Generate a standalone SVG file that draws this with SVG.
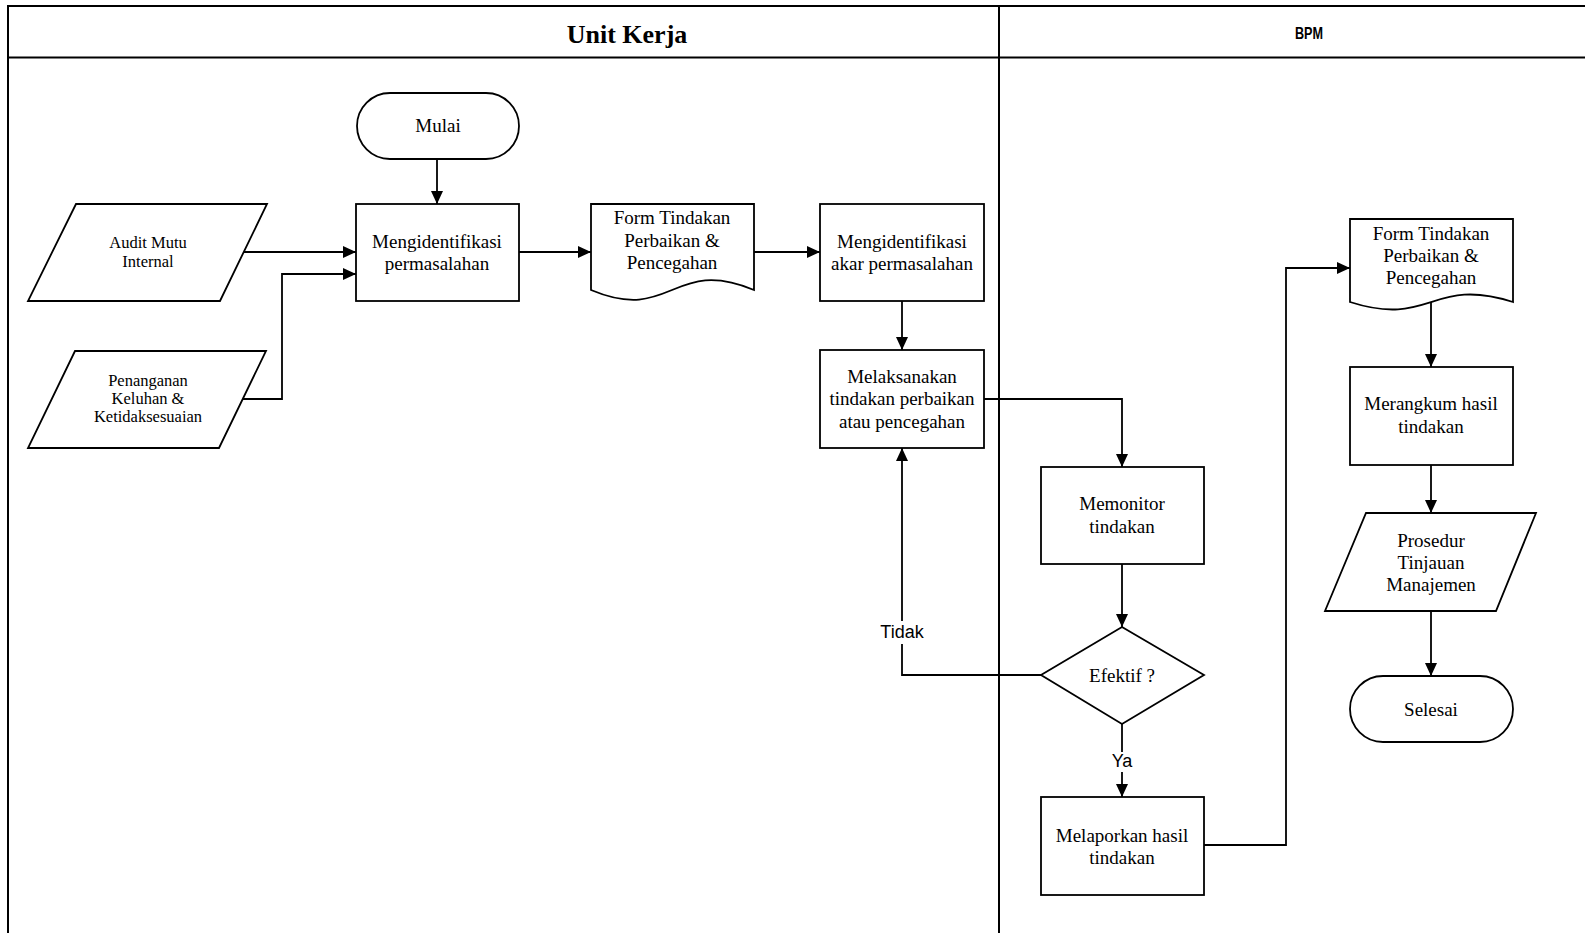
<svg xmlns="http://www.w3.org/2000/svg" width="1585" height="933" viewBox="0 0 1585 933">
<style>
.shape{fill:#fff;stroke:#000;stroke-width:1.8}
.lane{fill:none;stroke:#000;stroke-width:2}
.edge{fill:none;stroke:#000;stroke-width:1.8}
.t{font-family:"Liberation Serif","Times New Roman",serif;font-size:19px;fill:#000;text-anchor:middle}
.ts{font-family:"Liberation Serif","Times New Roman",serif;font-size:16.5px;fill:#000;text-anchor:middle}
.lbl{font-family:"Liberation Sans",Arial,sans-serif;font-size:18px;fill:#000;text-anchor:middle}
</style>
<defs>
<marker id="arr" markerUnits="userSpaceOnUse" markerWidth="13" markerHeight="12" refX="13" refY="6" orient="auto">
<path d="M0,0 L13,6 L0,12 z" fill="#000"/>
</marker>
</defs>
<rect width="1585" height="933" fill="#fff"/>
<g id="lanes">
<path class="lane" d="M8,933 V6 H1585 M8,57.5 H1585 M999,6 V933"/>
<text x="627" y="43" style="font-family:'Liberation Serif','Times New Roman',serif;font-size:26px;font-weight:bold;text-anchor:middle">Unit Kerja</text>
<text x="1309" y="39" textLength="28" lengthAdjust="spacingAndGlyphs" style="font-family:'Liberation Sans',Arial,sans-serif;font-size:17px;font-weight:bold;text-anchor:middle">BPM</text>
</g>
<g id="connectors">
<path class="edge" marker-end="url(#arr)" d="M437,159 V204"/>
<path class="edge" marker-end="url(#arr)" d="M244,252 H356"/>
<path class="edge" marker-end="url(#arr)" d="M243,399 H282 V274 H356"/>
<path class="edge" marker-end="url(#arr)" d="M519,252 H591"/>
<path class="edge" marker-end="url(#arr)" d="M754,252 H820"/>
<path class="edge" marker-end="url(#arr)" d="M902,301 V350"/>
<path class="edge" marker-end="url(#arr)" d="M984,399 H1122 V467"/>
<path class="edge" marker-end="url(#arr)" d="M1122,564 V627"/>
<path class="edge" marker-end="url(#arr)" d="M1041,675 H902 V448"/>
<path class="edge" marker-end="url(#arr)" d="M1122,724 V797"/>
<path class="edge" marker-end="url(#arr)" d="M1203,845 H1286 V268 H1350"/>
<path class="edge" marker-end="url(#arr)" d="M1431,302 V367"/>
<path class="edge" marker-end="url(#arr)" d="M1431,465 V513"/>
<path class="edge" marker-end="url(#arr)" d="M1431,611 V676"/>
<rect x="878" y="621" width="48" height="23" fill="#fff"/>
<text class="lbl" x="902" y="638">Tidak</text>
<rect x="1108" y="752" width="28" height="20" fill="#fff"/>
<text class="lbl" x="1122" y="767">Ya</text>
</g>
<g id="mulai">
<rect class="shape" x="357" y="93" width="162" height="66" rx="33"/>
<text class="t" x="438" y="132">Mulai</text>
</g>
<g id="audit">
<polygon class="shape" points="76,204 267,204 220,301 28,301"/>
<text class="ts" x="148" y="248">Audit Mutu</text>
<text class="ts" x="148" y="267">Internal</text>
</g>
<g id="penanganan">
<polygon class="shape" points="75,351 266,351 219,448 28,448"/>
<text class="ts" x="148" y="386">Penanganan</text>
<text class="ts" x="148" y="404">Keluhan &amp;</text>
<text class="ts" x="148" y="422">Ketidaksesuaian</text>
</g>
<g id="identifikasi">
<rect class="shape" x="356" y="204" width="163" height="97"/>
<text class="t" x="437" y="248">Mengidentifikasi</text>
<text class="t" x="437" y="270">permasalahan</text>
</g>
<g id="form1">
<path class="shape" d="M591,204 H754 V290 C672,256 672,324 591,290 Z"/>
<text class="t" x="672" y="224">Form Tindakan</text>
<text class="t" x="672" y="247">Perbaikan &amp;</text>
<text class="t" x="672" y="269">Pencegahan</text>
</g>
<g id="akar">
<rect class="shape" x="820" y="204" width="164" height="97"/>
<text class="t" x="902" y="248">Mengidentifikasi</text>
<text class="t" x="902" y="270">akar permasalahan</text>
</g>
<g id="melaksanakan">
<rect class="shape" x="820" y="350" width="164" height="98"/>
<text class="t" x="902" y="383">Melaksanakan</text>
<text class="t" x="902" y="405">tindakan perbaikan</text>
<text class="t" x="902" y="428">atau pencegahan</text>
</g>
<g id="memonitor">
<rect class="shape" x="1041" y="467" width="163" height="97"/>
<text class="t" x="1122" y="510">Memonitor</text>
<text class="t" x="1122" y="533">tindakan</text>
</g>
<g id="efektif">
<polygon class="shape" points="1122,627 1204,675 1122,724 1041,675"/>
<text class="t" x="1122" y="682">Efektif ?</text>
</g>
<g id="melaporkan">
<rect class="shape" x="1041" y="797" width="163" height="98"/>
<text class="t" x="1122" y="842">Melaporkan hasil</text>
<text class="t" x="1122" y="864">tindakan</text>
</g>
<g id="form2">
<path class="shape" d="M1350,219 H1513 V302 C1431,276 1431,328 1350,302 Z"/>
<text class="t" x="1431" y="240">Form Tindakan</text>
<text class="t" x="1431" y="262">Perbaikan &amp;</text>
<text class="t" x="1431" y="284">Pencegahan</text>
</g>
<g id="merangkum">
<rect class="shape" x="1350" y="367" width="163" height="98"/>
<text class="t" x="1431" y="410">Merangkum hasil</text>
<text class="t" x="1431" y="433">tindakan</text>
</g>
<g id="prosedur">
<polygon class="shape" points="1366,513 1536,513 1496,611 1325,611"/>
<text class="t" x="1431" y="547">Prosedur</text>
<text class="t" x="1431" y="569">Tinjauan</text>
<text class="t" x="1431" y="591">Manajemen</text>
</g>
<g id="selesai">
<rect class="shape" x="1350" y="676" width="163" height="66" rx="33"/>
<text class="t" x="1431" y="716">Selesai</text>
</g>
</svg>
